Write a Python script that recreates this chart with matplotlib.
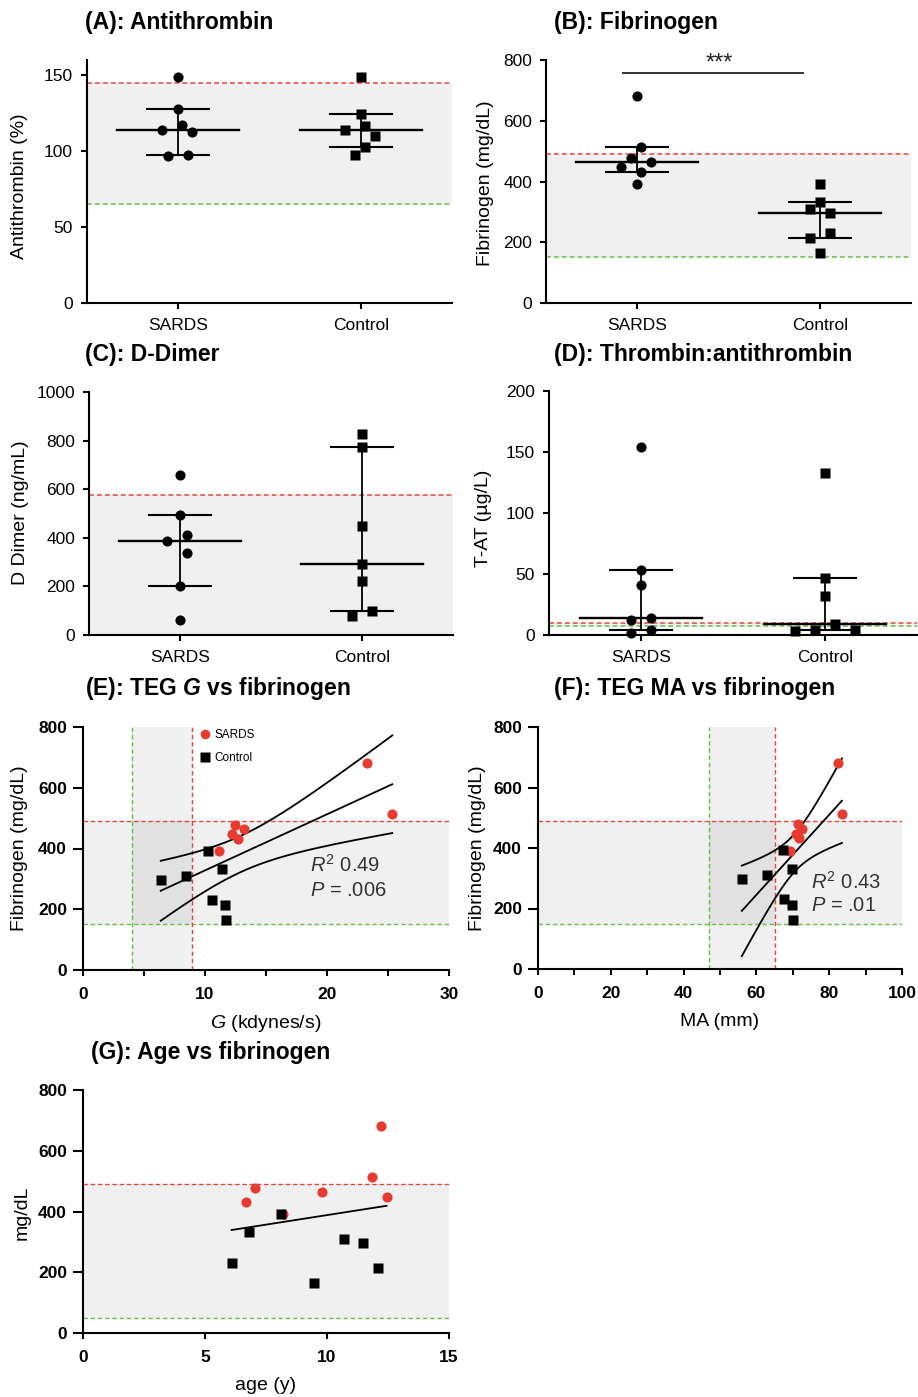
import numpy as np
import matplotlib
matplotlib.use("Agg")
import matplotlib.pyplot as plt
from matplotlib.ticker import MultipleLocator

plt.rcParams['font.family'] = ['Liberation Sans', 'DejaVu Sans']
plt.rcParams['mathtext.fontset'] = 'custom'
plt.rcParams['mathtext.rm'] = 'Liberation Sans'
plt.rcParams['mathtext.it'] = 'Liberation Sans:italic'
plt.rcParams['mathtext.bf'] = 'Liberation Sans:bold'
plt.rcParams['mathtext.bfit'] = 'Liberation Sans:italic:bold'

# ---------------- data ----------------
groups = ["SARDS", "Control"]

antithrombin_sards = [148.5, 127.5, 117.5, 113.8, 112.4, 97.6, 96.5]
antithrombin_control = [148.5, 124.5, 116.4, 109.8, 113.8, 102.8, 97.6]

fibrinogen_sards = [681, 514, 479, 463, 447, 432, 391]
fibrinogen_control = [392, 310, 297, 332, 232, 213, 163]

ddimer_sards = [658, 492, 413, 388, 339, 200, 60]
ddimer_control = [826, 775, 449, 291, 222, 99, 77]

tat_sards = [154.3, 53.6, 40.8, 14.0, 12.0, 3.8, 1.9]
tat_control = [133.0, 46.5, 32.3, 8.8, 4.2, 3.8, 3.5]

teg_g_sards = [23.24, 25.35, 12.47, 13.2, 12.25, 12.69, 11.16]
teg_g_control = [10.25, 8.48, 6.37, 11.43, 10.61, 11.62, 11.76]

teg_ma_sards = [82.3, 83.5, 71.3, 72.4, 70.9, 71.7, 69.3]
teg_ma_control = [67.2, 62.8, 56.0, 69.7, 67.7, 69.7, 70.0]

age_sards = [12.2, 11.83, 7.06, 9.8, 12.44, 6.66, 8.2]
age_control = [8.1, 10.71, 11.49, 6.82, 6.09, 12.1, 9.48]

# reference intervals
antithrombin_range = (65, 145)
fibrinogen_range = (150, 490)
ddimer_upper = 575
tat_range = (7, 10)
teg_g_range = (4, 8.9)
teg_ma_range = (47, 65)
age_fib_range = (50, 490)

stats_g = ["$R^2$ 0.49", "$P$ = .006"]
stats_ma = ["$R^2$ 0.43", "$P$ = .01"]

# ---------------- style ----------------
RED = '#e4453a'
GREEN = '#62c143'
PT_RED = '#e53b30'
SHADE = '#f0f0f0'
DASH = (0, (3.2, 2.0))
T_CRIT = 2.179  # two-sided 95 %, 12 df

W, H = 918, 1397
fig = plt.figure(figsize=(W / 100, H / 100), dpi=100)


def add_axes_px(l, t, r, b):
    ax = fig.add_axes([l / W, 1 - b / H, (r - l) / W, (b - t) / H])
    ax._px = (l, t, r, b)
    return ax


def fig_text(x, y, s, **kw):
    fig.text(x / W, 1 - y / H, s, **kw)


def base_style(ax, bold=False, ylen=4.5, xlen=4.5, xpad=7, ypad=5.5):
    for s in ('top', 'right'):
        ax.spines[s].set_visible(False)
    for s in ('left', 'bottom'):
        ax.spines[s].set_linewidth(1.5)
    ax.tick_params(axis='y', length=ylen, width=1.5, labelsize=12.5, pad=ypad)
    ax.tick_params(axis='x', length=xlen, width=1.5, labelsize=12.5, pad=xpad)
    ax.tick_params(axis='x', which='minor', length=xlen, width=1.5)
    if bold:
        for lab in ax.get_xticklabels() + ax.get_yticklabels():
            lab.set_fontweight('bold')


def swarm_offsets(values, ax, step_px=10.0, min_px=12.0):
    l, t, r, b = ax._px
    x0, x1 = ax.get_xlim()
    y0, y1 = ax.get_ylim()
    sx = (r - l) / (x1 - x0)
    sy = (b - t) / (y1 - y0)
    yp = np.asarray(values, float) * sy
    cands = [0.0]
    for k in range(1, 8):
        cands += [-k * step_px, k * step_px]
    offs = np.zeros(len(yp))
    placed = []
    for i in np.argsort(yp)[::-1]:
        for c in cands:
            if all(np.hypot(c - px, yp[i] - py) >= min_px for px, py in placed):
                break
        placed.append((c, yp[i]))
        offs[i] = c
    # centre each run of overlapping points on the group axis
    order = np.argsort(yp)
    clusters, cur = [], [order[0]]
    for a, bidx in zip(order[:-1], order[1:]):
        if yp[bidx] - yp[a] < min_px:
            cur.append(bidx)
        else:
            clusters.append(cur)
            cur = [bidx]
    clusters.append(cur)
    for cl in clusters:
        if len(cl) > 1:
            offs[cl] -= offs[cl].mean()
    return offs / sx


def category_panel(ax, sards, control, ylim, yticks, shade=None,
                   upper=None, lower=None):
    ax.set_xlim(-0.5, 1.5)
    ax.set_ylim(*ylim)
    ax.set_yticks(yticks)
    ax.set_xticks([0, 1])
    ax.set_xticklabels(groups, fontsize=13.5)
    if shade is not None:
        ax.axhspan(shade[0], shade[1], color=SHADE, lw=0, zorder=0)
    if upper is not None:
        ax.axhline(upper, color=RED, ls=DASH, lw=1.1, zorder=1)
    if lower is not None:
        ax.axhline(lower, color=GREEN, ls=DASH, lw=1.1, zorder=1)
    for i, (vals, marker, ms) in enumerate([(sards, 'o', 7.3), (control, 's', 6.9)]):
        v = np.asarray(vals, float)
        off = swarm_offsets(v, ax)
        ax.plot(i + off, v, ls='none', marker=marker, ms=ms, color='black',
                mec='none', zorder=3, clip_on=False)
        q1, med, q3 = np.percentile(v, [25, 50, 75], method='weibull')
        ax.plot([i - 0.333, i + 0.333], [med, med], color='black', lw=1.7, zorder=4)
        for q in (q1, q3):
            ax.plot([i - 0.17, i + 0.17], [q, q], color='black', lw=1.5, zorder=4)
        ax.plot([i, i], [q1, q3], color='black', lw=1.3, zorder=2)
    base_style(ax, ylen=4.5, xlen=4.5, xpad=6, ypad=5.5)


def scatter_panel(ax, xs_s, xs_c, ys_s, ys_c, xlim, major, minor,
                  vband=None, hband=None, ci=True):
    ax.set_xlim(*xlim)
    ax.set_ylim(0, 800)
    ax.set_yticks(range(0, 801, 200))
    ax.xaxis.set_major_locator(MultipleLocator(major))
    if minor:
        ax.xaxis.set_minor_locator(MultipleLocator(minor))
    if hband is not None:
        ax.axhspan(hband[0], hband[1], color='black', alpha=0.06, lw=0, zorder=0)
        ax.axhline(hband[1], color=RED, ls=DASH, lw=1.0, zorder=1)
        ax.axhline(hband[0], color=GREEN, ls=DASH, lw=1.0, zorder=1)
    if vband is not None:
        ax.axvspan(vband[0], vband[1], color='black', alpha=0.06, lw=0, zorder=0)
        ax.axvline(vband[0], color=GREEN, ls=DASH, lw=1.0, zorder=1)
        ax.axvline(vband[1], color=RED, ls=DASH, lw=1.0, zorder=1)

    x = np.concatenate([xs_s, xs_c]).astype(float)
    y = np.concatenate([ys_s, ys_c]).astype(float)
    slope, icpt = np.polyfit(x, y, 1)
    xx = np.linspace(x.min(), x.max(), 200)
    yy = slope * xx + icpt
    ax.plot(xx, yy, color='black', lw=1.3, zorder=2)
    if ci:
        n = len(x)
        resid = y - (slope * x + icpt)
        s = np.sqrt(np.sum(resid ** 2) / (n - 2))
        sxx = np.sum((x - x.mean()) ** 2)
        half = T_CRIT * s * np.sqrt(1 / n + (xx - x.mean()) ** 2 / sxx)
        ax.plot(xx, yy + half, color='black', lw=1.3, zorder=2)
        ax.plot(xx, yy - half, color='black', lw=1.3, zorder=2)

    ax.plot(xs_s, ys_s, ls='none', marker='o', ms=7.3, color=PT_RED, mec='none',
            zorder=3, label='SARDS')
    ax.plot(xs_c, ys_c, ls='none', marker='s', ms=7.2, color='black', mec='none',
            zorder=4, label='Control')
    base_style(ax, bold=True, ylen=7.5, xlen=4, xpad=8, ypad=4)


# ---------------- panels ----------------
axA = add_axes_px(87, 60, 452, 303)
category_panel(axA, antithrombin_sards, antithrombin_control, (0, 160),
               [0, 50, 100, 150], shade=antithrombin_range,
               upper=antithrombin_range[1], lower=antithrombin_range[0])

axB = add_axes_px(546, 60, 911, 303)
category_panel(axB, fibrinogen_sards, fibrinogen_control, (0, 800),
               range(0, 801, 200), shade=fibrinogen_range,
               upper=fibrinogen_range[1], lower=fibrinogen_range[0])
axB.plot([-0.08, 0.91], [756, 756], color='#333333', lw=1.4, clip_on=False)
axB.text(0.45, 788, '***', ha='center', va='center', fontsize=17, color='#222222')

axC = add_axes_px(89, 392, 453, 635)
category_panel(axC, ddimer_sards, ddimer_control, (0, 1000),
               range(0, 1001, 200), shade=(0, ddimer_upper), upper=ddimer_upper)

axD = add_axes_px(549, 391, 917, 635)
category_panel(axD, tat_sards, tat_control, (0, 200), range(0, 201, 50),
               shade=tat_range, upper=tat_range[1], lower=tat_range[0])

axE = add_axes_px(83, 727, 449, 970)
scatter_panel(axE, teg_g_sards, teg_g_control, fibrinogen_sards, fibrinogen_control,
              (0, 30), 10, 5, vband=teg_g_range, hband=fibrinogen_range)
axE.text(18.6, 345, stats_g[0], fontsize=14.5, color='#333333', va='center')
axE.text(18.6, 263, stats_g[1], fontsize=14.5, color='#333333', va='center')
axE.legend(loc='upper left', bbox_to_anchor=(0.31, 1.0), frameon=False,
           fontsize=8.5, handlelength=1.0, handletextpad=0.35, labelspacing=0.9,
           borderaxespad=0.0, borderpad=0.2, markerscale=0.95)

axF = add_axes_px(538, 727, 902, 969)
scatter_panel(axF, teg_ma_sards, teg_ma_control, fibrinogen_sards, fibrinogen_control,
              (0, 100), 20, 10, vband=teg_ma_range, hband=fibrinogen_range)
axF.text(75, 288, stats_ma[0], fontsize=14.5, color='#333333', va='center')
axF.text(75, 211, stats_ma[1], fontsize=14.5, color='#333333', va='center')

axG = add_axes_px(83, 1090, 449, 1333)
scatter_panel(axG, age_sards, age_control, fibrinogen_sards, fibrinogen_control,
              (0, 15), 5, None, hband=age_fib_range, ci=False)

# ---------------- titles & labels ----------------
title_kw = dict(fontsize=16.5, fontweight='bold', ha='left', va='center')
fig_text(85, 23, '(A): Antithrombin', **title_kw)
fig_text(554, 23, '(B): Fibrinogen', **title_kw)
fig_text(85, 355, '(C): D-Dimer', **title_kw)
fig_text(554, 355, '(D): Thrombin:antithrombin', **title_kw)
fig_text(85, 688, r'(E): TEG $\mathbfit{G}$ vs fibrinogen', **title_kw)
fig_text(554, 688, '(F): TEG MA vs fibrinogen', **title_kw)
fig_text(91, 1052, '(G): Age vs fibrinogen', **title_kw)

ylab_kw = dict(fontsize=14, rotation=90, ha='center', va='center')
fig_text(20, 186, 'Antithrombin (%)', **ylab_kw)
fig_text(485, 183, 'Fibrinogen (mg/dL)', **ylab_kw)
fig_text(21, 513, 'D Dimer (ng/mL)', **ylab_kw)
fig_text(484, 518, 'T-AT (µg/L)', **ylab_kw)
fig_text(20, 848, 'Fibrinogen (mg/dL)', **ylab_kw)
fig_text(477, 848, 'Fibrinogen (mg/dL)', **ylab_kw)
fig_text(22, 1213, 'mg/dL', **ylab_kw)

xlab_kw = dict(fontsize=14, ha='center', va='center')
fig_text(266, 1023, r'$G$ (kdynes/s)', **xlab_kw)
fig_text(720, 1022, 'MA (mm)', **xlab_kw)
fig_text(266, 1386, 'age (y)', **xlab_kw)

fig.savefig('out.png', dpi=100)
